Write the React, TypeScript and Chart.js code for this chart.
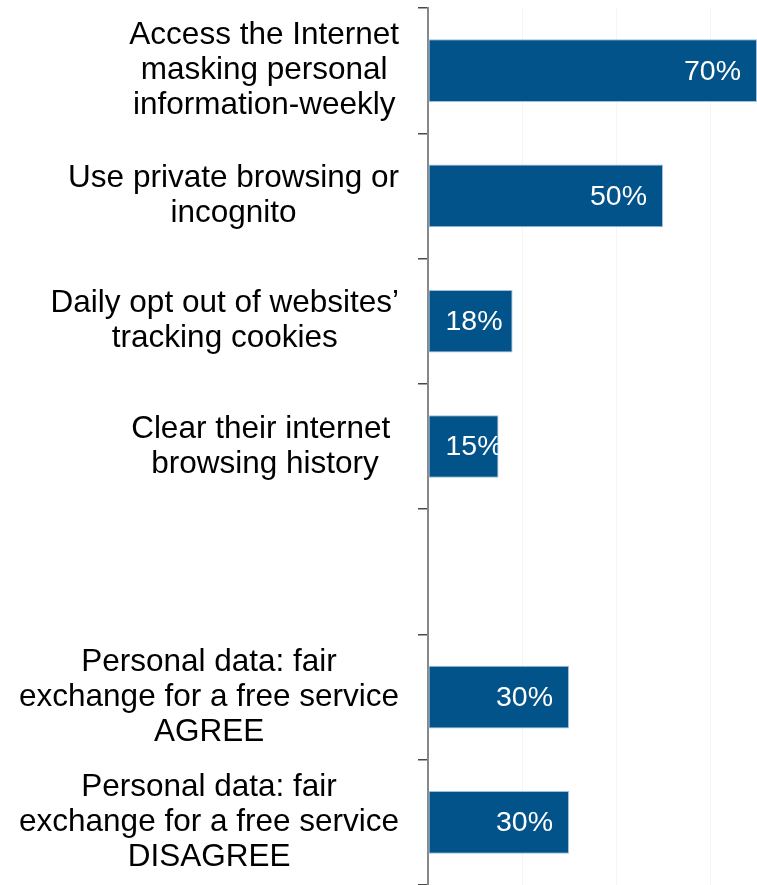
import { useEffect, useRef } from 'react';
import { Chart, registerables } from 'chart.js';

Chart.register(...registerables);

const categories: string[][] = [
  ['Access the Internet', 'masking personal', 'information-weekly'],
  ['Use private browsing or', 'incognito'],
  ['Daily opt out of websites\u2019', 'tracking cookies'],
  ['Clear their internet ', 'browsing history'],
  [''],
  ['Personal data: fair', 'exchange for a free service', 'AGREE'],
  ['Personal data: fair', 'exchange for a free service', 'DISAGREE'],
];

const values: (number | null)[] = [70, 50, 18, 15, null, 30, 30];

const axisMax = 70;
const gridStep = 20;

const FONT = '"Liberation Sans", Arial, Helvetica, sans-serif';
const BAR_COLOR = '#02538A';

const labelPlugin = {
  id: 'customLabels',
  afterDatasetsDraw(chart: any) {
    const ctx = chart.ctx as CanvasRenderingContext2D;
    const meta = chart.getDatasetMeta(0);
    ctx.save();
    ctx.font = `28.5px ${FONT}`;
    ctx.fillStyle = '#ffffff';
    ctx.textAlign = 'right';
    ctx.textBaseline = 'middle';
    meta.data.forEach((bar: any, i: number) => {
      const v = values[i];
      if (v == null) return;
      const p = bar.getProps(['x', 'y', 'base', 'height'], true);
      const text = `${v}%`;
      const w = ctx.measureText(text).width;
      const right = Math.max(p.x - 16, p.base + 17 + w);
      ctx.save();
      ctx.beginPath();
      ctx.rect(p.base, p.y - p.height / 2, p.x - p.base, p.height);
      ctx.clip();
      ctx.fillText(text, right, p.y + 1);
      ctx.restore();
    });
    ctx.restore();
  },
  afterDraw(chart: any) {
    const ctx = chart.ctx as CanvasRenderingContext2D;
    const yScale = chart.scales.y;
    const rightEdge = chart.chartArea.left - 29;
    const lineH = 35;
    ctx.save();
    ctx.font = `31.5px ${FONT}`;
    ctx.fillStyle = '#000000';
    ctx.textAlign = 'center';
    ctx.textBaseline = 'middle';
    categories.forEach((lines, i) => {
      const cy = yScale.getPixelForValue(i);
      const widest = Math.max(...lines.map((l) => ctx.measureText(l).width));
      const cx = rightEdge - widest / 2;
      const n = lines.length;
      lines.forEach((line, j) => {
        const ly = cy + (j - (n - 1) / 2) * lineH;
        ctx.fillText(line, cx, ly);
      });
    });
    ctx.restore();
  },
};

export default function App() {
  const ref = useRef<HTMLCanvasElement | null>(null);

  useEffect(() => {
    document.body.style.margin = '0';
    if (!ref.current) return;
    const chart = new Chart(ref.current, {
      type: 'bar',
      data: {
        labels: categories,
        datasets: [
          {
            data: values,
            backgroundColor: BAR_COLOR,
            borderColor: 'rgba(150,185,215,0.9)',
            borderWidth: 1,
            borderSkipped: false,
            barPercentage: 0.5,
            categoryPercentage: 1,
          },
        ],
      },
      options: {
        indexAxis: 'y',
        responsive: false,
        animation: false,
        maintainAspectRatio: false,
        layout: { padding: { top: 8, left: 0, right: 0, bottom: 0 } },
        plugins: {
          legend: { display: false },
          tooltip: { enabled: false },
        },
        scales: {
          x: {
            min: 0,
            max: axisMax,
            ticks: { display: false, stepSize: gridStep },
            grid: { color: '#f5f5f5', drawTicks: false, lineWidth: 1 },
            border: { display: false },
          },
          y: {
            ticks: { display: false },
            grid: {
              drawOnChartArea: false,
              drawTicks: true,
              tickLength: 10,
              color: '#4a4a4a',
              lineWidth: 1.5,
              offset: true,
            },
            border: { display: true, color: '#888888', width: 2 },
            afterFit: (s: any) => {
              s.width = 428;
            },
          },
        },
      },
      plugins: [labelPlugin],
    });
    return () => chart.destroy();
  }, []);

  return <canvas ref={ref} width={757} height={885} style={{ display: 'block' }} />;
}
